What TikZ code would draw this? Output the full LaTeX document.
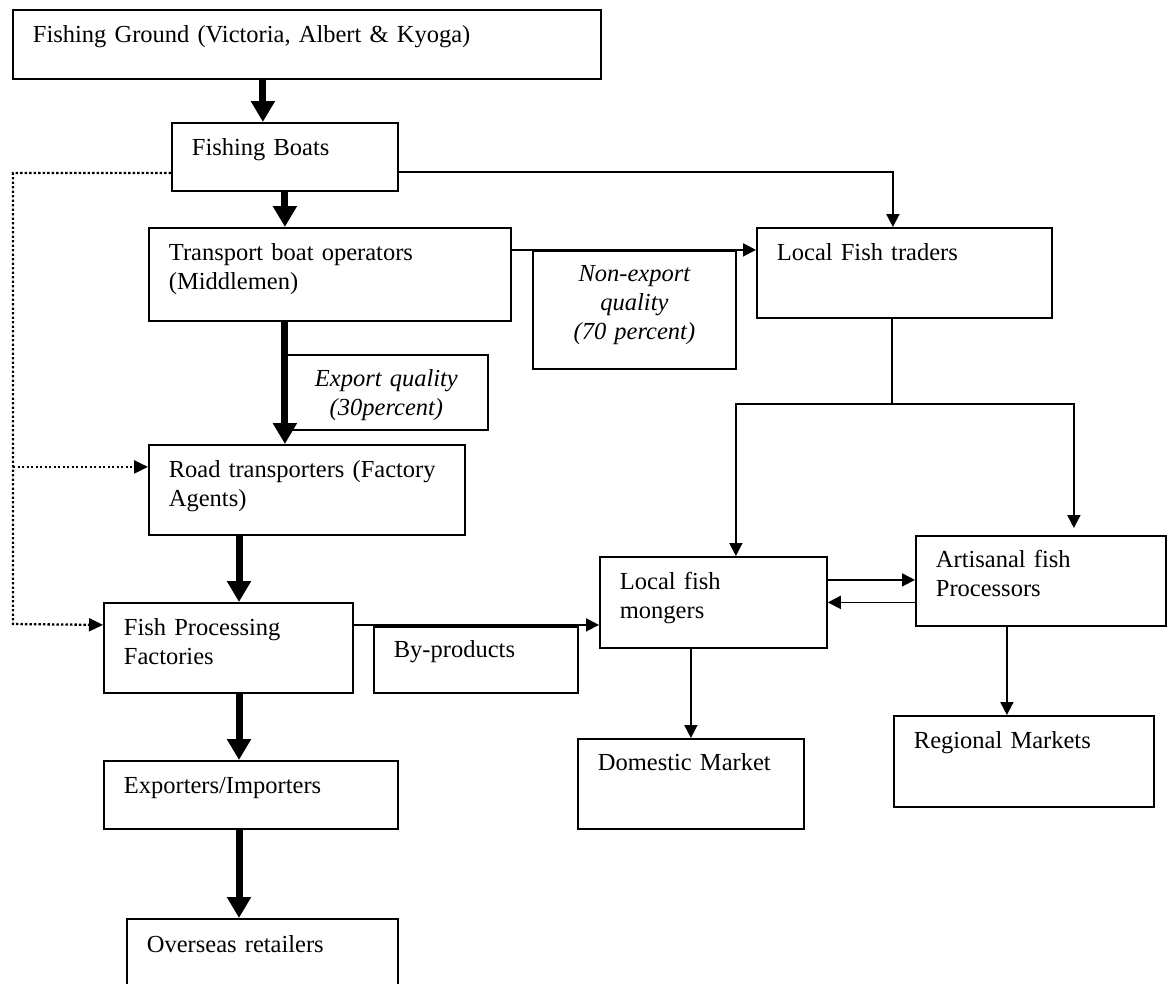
\documentclass[tikz,border=0pt]{standalone}
\usepackage{fontspec}
\setmainfont{Liberation Serif}
\usetikzlibrary{arrows.meta}

\begin{document}
\begin{tikzpicture}[
    x=1pt, y=-1pt,
    box/.style={rectangle, draw, line width=1.8pt, anchor=north west, inner xsep=20pt, inner ysep=0pt, align=left, text height=33pt, font=\fontsize{24.5}{29}\selectfont},
    note/.style={box, align=center, text height=31pt, font=\fontsize{24.5}{29}\selectfont\itshape},
    arrow/.style={-{Triangle[length=13pt,width=13pt]}, line width=1.8pt},
    bigarrow/.style={-{Triangle[length=21pt,width=23pt]}, line width=7pt},
    dotarrow/.style={-{Triangle[length=14pt,width=13pt]}, line width=2.3pt, dash pattern=on 2.3pt off 2.2pt}
]
\useasboundingbox (0,0) rectangle (1170,983);
\clip (0,0) rectangle (1170,983);
\fill[white] (0,0) rectangle (1170,983);

% Export chain
\node[box, text width=548pt, text depth=36pt] (ground) at (12,9) {Fishing Ground (Victoria, Albert \& Kyoga)};
\node[box, text width=186pt, text depth=35pt] (boats) at (171,122) {Fishing Boats};
\node[box, text width=322pt, text depth=60pt] (middle) at (148,227) {Transport boat operators\\(Middlemen)};
\node[note, text width=163pt, text depth=43pt, text height=32pt] (export) at (284,354) {Export quality\\(30percent)};
\node[box, text width=276pt, text depth=57pt] (road) at (148,444) {Road transporters (Factory\\Agents)};
\node[box, text width=209pt, text depth=57pt] (factory) at (103,602) {Fish Processing\\Factories};
\node[box, text width=164pt, text depth=35pt, text height=31pt] (byprod) at (373,626) {By-products};
\node[box, text width=254pt, text depth=35pt] (exim) at (103,760) {Exporters/Importers};
\node[box, text width=231pt, text depth=46pt, text height=34pt] (retail) at (126,918) {Overseas retailers};

% Local chain
\node[note, text width=163pt, text depth=87pt] (nonexp) at (532,250) {Non-export\\quality\\(70 percent)};
\node[box, text width=255pt, text depth=57pt] (traders) at (756,227) {Local Fish traders};
\node[box, text width=187pt, text depth=58pt] (mongers) at (599,556) {Local fish\\mongers};
\node[box, text width=210pt, text depth=58pt, text height=32pt] (artisan) at (915,535) {Artisanal fish\\Processors};
\node[box, text width=186pt, text depth=58pt, text height=32pt] (domestic) at (577,738) {Domestic Market};
\node[box, text width=220pt, text depth=58pt] (regional) at (893,715) {Regional Markets};

% Helper points
\coordinate (drop) at ([xshift=-22pt]boats.north);
\coordinate (spine) at (239,0);
\coordinate (boatsout) at ([yshift=-15pt]boats.east);
\coordinate (tradersin) at ([xshift=-11.5pt]traders.north);
\coordinate (middleout) at ([yshift=24.5pt]middle.east);
\coordinate (split) at (892,404);
\coordinate (mongersin) at ([xshift=22.5pt]mongers.north);
\coordinate (artisanin) at ([xshift=33pt,yshift=7pt]artisan.north);
\coordinate (mongersout) at ([yshift=22.5pt]mongers.east);
\coordinate (factoryout) at ([yshift=23pt]factory.east);
\coordinate (artisanout) at ([xshift=-34pt]artisan.south);
\coordinate (roadin) at ([yshift=23pt]road.west);
\coordinate (dtop) at (13,173);
\coordinate (dbot) at (13,624);

% Thick arrows
\draw[bigarrow] (ground.south -| drop) -- (drop);
\draw[bigarrow] (boats.south) -- (boats.south |- middle.north);
\draw[bigarrow] (middle.south -| boats.south) -- (road.north -| boats.south);
\draw[bigarrow] (road.south -| spine) -- (factory.north -| spine);
\draw[bigarrow] (factory.south -| spine) -- (exim.north -| spine);
\draw[bigarrow] (exim.south -| spine) -- (retail.north -| spine);

% Thin arrows
\draw[arrow] (boatsout) -| (tradersin);
\draw[arrow] (middleout) -- (middleout -| traders.west);
\draw[line width=1.8pt] (traders.south -| split) -- (split);
\draw[arrow] (split) -| (mongersin);
\draw[arrow] (split) -| (artisanin);
\draw[arrow] (mongersout) -- (mongersout -| artisan.west);
\draw[arrow] (mongers.east -| artisan.west) -- (mongers.east);
\draw[arrow] (factoryout) -- (factoryout -| mongers.west);
\draw[arrow] (artisanout) -- (artisanout |- regional.north);
\draw[arrow] (domestic.north |- mongers.south) -- (domestic.north);

% Dotted bypass
\draw[dotarrow] (boats.west |- dtop) -- (dtop) -- (dbot) -- (factoryout -| factory.west);
\draw[dotarrow] (dtop |- roadin) -- (roadin);

\end{tikzpicture}
\end{document}
